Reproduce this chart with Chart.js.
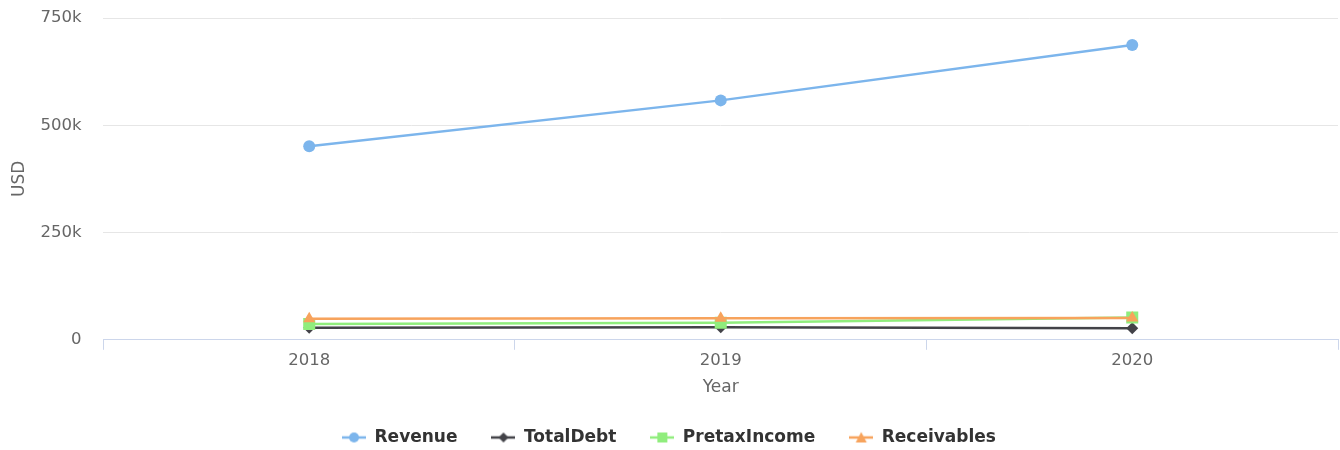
<!DOCTYPE html>
<html lang="en">
<head>
    <meta charset="UTF-8">
    <title>Revenue, Debt, Pretax Income and Receivables</title>
    <script src="https://cdn.jsdelivr.net/npm/chart.js"></script>
    <style>
        html, body { margin: 0; padding: 0; background: #fff; }
        #wrap { width: 1340px; height: 450px; }
    </style>
</head>
<body>
    <div id="wrap"><canvas id="chart"></canvas></div>

    <script>
        // values
        var years = ['2018', '2019', '2020'];
        var revenue = [451000, 558000, 687000];
        var totalDebt = [28000, 29000, 27000];
        var pretaxIncome = [37000, 40000, 52000];
        var receivables = [49000, 50000, 51000];
        var yTicks = [0, 250000, 500000, 750000];

        // legend icon: line with the marker in the middle
        function legendIcon(color, style) {
            var c = document.createElement('canvas');
            c.width = 24; c.height = 14;
            var g = c.getContext('2d');
            g.strokeStyle = color;
            g.fillStyle = color;
            g.lineWidth = 2.5;
            g.beginPath();
            g.moveTo(0, 7); g.lineTo(24, 7);
            g.stroke();
            g.beginPath();
            if (style == 'circle') {
                g.arc(12, 7, 5, 0, Math.PI * 2);
            } else if (style == 'diamond') {
                g.moveTo(12, 2); g.lineTo(17, 7); g.lineTo(12, 12); g.lineTo(7, 7);
            } else if (style == 'square') {
                g.rect(7, 2, 10, 10);
            } else {
                g.moveTo(12, 1.5); g.lineTo(17.5, 12); g.lineTo(6.5, 12);
            }
            g.closePath();
            g.fill();
            return c;
        }

        function series(label, data, color, style, icon, radius, order) {
            return {
                label: label,
                data: data,
                borderColor: color,
                backgroundColor: color,
                borderWidth: 2.5,
                pointStyle: style,
                pointRadius: radius,
                pointHoverRadius: radius,
                pointBorderWidth: 0,
                icon: legendIcon(color, icon),
                order: order,
                fill: false,
                tension: 0
            };
        }

        var ctx = document.getElementById('chart').getContext('2d');
        var chart = new Chart(ctx, {
            type: 'line',
            data: {
                labels: years,
                datasets: [
                    series('Revenue', revenue, '#7cb5ec', 'circle', 'circle', 6, 3),
                    series('TotalDebt', totalDebt, '#434348', 'rectRot', 'diamond', 6, 2),
                    series('PretaxIncome', pretaxIncome, '#90ed7d', 'rect', 'square', 8.5, 1),
                    series('Receivables', receivables, '#f7a35c', 'triangle', 'triangle', 7, 0)
                ]
            },
            options: {
                responsive: true,
                maintainAspectRatio: false,
                animation: false,
                layout: { autoPadding: false, padding: { top: 8, right: 2, left: 0, bottom: -6 } },
                plugins: {
                    tooltip: { enabled: false },
                    legend: {
                        position: 'bottom',
                        labels: {
                            usePointStyle: true,
                            pointStyleWidth: 24,
                            padding: 34,
                            color: '#333333',
                            font: { family: 'DejaVu Sans', size: 17, weight: 'bold' },
                            sort: function(a, b) { return a.datasetIndex - b.datasetIndex; },
                            generateLabels: function(ch) {
                                var items = Chart.defaults.plugins.legend.labels.generateLabels(ch);
                                items.forEach(function(it) {
                                    it.pointStyle = ch.data.datasets[it.datasetIndex].icon;
                                });
                                return items;
                            }
                        }
                    }
                },
                scales: {
                    x: {
                        offset: true,
                        afterFit: function(axis) {
                            axis.paddingLeft = 0;
                            axis.paddingRight = 0;
                        },
                        grid: {
                            offset: true,
                            drawOnChartArea: false,
                            drawTicks: true,
                            tickLength: 10,
                            color: '#ccd6eb'
                        },
                        border: { color: '#ccd6eb', width: 1 },
                        ticks: {
                            color: '#666666',
                            padding: 1,
                            font: { family: 'DejaVu Sans', size: 16.5 }
                        },
                        title: {
                            display: true,
                            text: 'Year',
                            color: '#666666',
                            padding: { top: 6, bottom: -3 },
                            font: { family: 'DejaVu Sans', size: 17 }
                        }
                    },
                    y: {
                        min: 0,
                        max: 750000,
                        afterBuildTicks: function(axis) {
                            axis.ticks = yTicks.map(function(v) { return { value: v }; });
                        },
                        afterFit: function(axis) {
                            axis.paddingTop = 18;
                            axis.paddingBottom = 10;
                        },
                        grid: { color: '#e6e6e6', drawTicks: false },
                        border: { display: false },
                        ticks: {
                            color: '#666666',
                            padding: 22,
                            font: { family: 'DejaVu Sans', size: 16.5 },
                            callback: function(v) { return v === 0 ? '0' : (v / 1000) + 'k'; }
                        },
                        title: {
                            display: true,
                            text: 'USD',
                            color: '#666666',
                            padding: { top: 9, bottom: -11 },
                            font: { family: 'DejaVu Sans', size: 17 }
                        }
                    }
                }
            }
        });
    </script>
</body>
</html>
